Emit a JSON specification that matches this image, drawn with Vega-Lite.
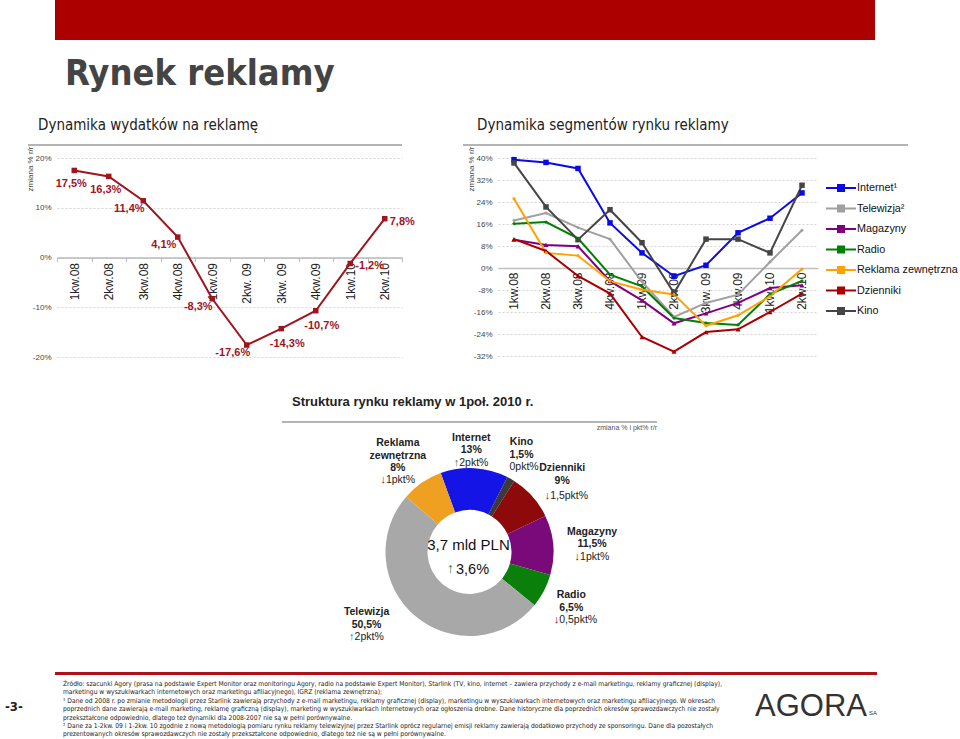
{
  "$schema": "https://vega.github.io/schema/vega-lite/v6.json",
  "padding": 0,
  "background": "white",
  "config": {
    "view": {"stroke": null},
    "font": "Liberation Sans",
    "locale": {"number": {"decimal": ",", "thousands": " ", "grouping": [3], "currency": ["", " zł"], "minus": "-"}},
    "title": {"font": "Liberation Sans", "color": "#222222", "fontWeight": "normal"},
    "axis": {"labelFont": "Liberation Sans", "titleFont": "Liberation Sans"}
  },
  "datasets": {
    "wydatki": [
      {"kwartal": "1kw.08", "zmiana": 0.175},
      {"kwartal": "2kw.08", "zmiana": 0.163},
      {"kwartal": "3kw.08", "zmiana": 0.114},
      {"kwartal": "4kw.08", "zmiana": 0.041},
      {"kwartal": "1kw.09", "zmiana": -0.083},
      {"kwartal": "2kw. 09", "zmiana": -0.176},
      {"kwartal": "3kw. 09", "zmiana": -0.143},
      {"kwartal": "4kw.09", "zmiana": -0.107},
      {"kwartal": "1kw.10", "zmiana": -0.012},
      {"kwartal": "2kw.10", "zmiana": 0.078}
    ],
    "segmenty": [
      {"seria": "Internet¹", "kwartal": "1kw.08", "zmiana": 0.394},
      {"seria": "Internet¹", "kwartal": "2kw.08", "zmiana": 0.384},
      {"seria": "Internet¹", "kwartal": "3kw.08", "zmiana": 0.362},
      {"seria": "Internet¹", "kwartal": "4kw.08", "zmiana": 0.164},
      {"seria": "Internet¹", "kwartal": "1kw.09", "zmiana": 0.055},
      {"seria": "Internet¹", "kwartal": "2kw.09", "zmiana": -0.030},
      {"seria": "Internet¹", "kwartal": "3kw. 09", "zmiana": 0.010},
      {"seria": "Internet¹", "kwartal": "4kw.09", "zmiana": 0.128},
      {"seria": "Internet¹", "kwartal": "1kw. 10", "zmiana": 0.181},
      {"seria": "Internet¹", "kwartal": "2kw.10", "zmiana": 0.273},
      {"seria": "Telewizja²", "kwartal": "1kw.08", "zmiana": 0.173},
      {"seria": "Telewizja²", "kwartal": "2kw.08", "zmiana": 0.200},
      {"seria": "Telewizja²", "kwartal": "3kw.08", "zmiana": 0.147},
      {"seria": "Telewizja²", "kwartal": "4kw.08", "zmiana": 0.105},
      {"seria": "Telewizja²", "kwartal": "1kw.09", "zmiana": -0.050},
      {"seria": "Telewizja²", "kwartal": "2kw.09", "zmiana": -0.178},
      {"seria": "Telewizja²", "kwartal": "3kw. 09", "zmiana": -0.127},
      {"seria": "Telewizja²", "kwartal": "4kw.09", "zmiana": -0.097},
      {"seria": "Telewizja²", "kwartal": "1kw. 10", "zmiana": 0.022},
      {"seria": "Telewizja²", "kwartal": "2kw.10", "zmiana": 0.137},
      {"seria": "Magazyny", "kwartal": "1kw.08", "zmiana": 0.103},
      {"seria": "Magazyny", "kwartal": "2kw.08", "zmiana": 0.084},
      {"seria": "Magazyny", "kwartal": "3kw.08", "zmiana": 0.079},
      {"seria": "Magazyny", "kwartal": "4kw.08", "zmiana": -0.048},
      {"seria": "Magazyny", "kwartal": "1kw.09", "zmiana": -0.118},
      {"seria": "Magazyny", "kwartal": "2kw.09", "zmiana": -0.201},
      {"seria": "Magazyny", "kwartal": "3kw. 09", "zmiana": -0.165},
      {"seria": "Magazyny", "kwartal": "4kw.09", "zmiana": -0.127},
      {"seria": "Magazyny", "kwartal": "1kw. 10", "zmiana": -0.073},
      {"seria": "Magazyny", "kwartal": "2kw.10", "zmiana": -0.063},
      {"seria": "Radio", "kwartal": "1kw.08", "zmiana": 0.161},
      {"seria": "Radio", "kwartal": "2kw.08", "zmiana": 0.167},
      {"seria": "Radio", "kwartal": "3kw.08", "zmiana": 0.108},
      {"seria": "Radio", "kwartal": "4kw.08", "zmiana": -0.024},
      {"seria": "Radio", "kwartal": "1kw.09", "zmiana": -0.067},
      {"seria": "Radio", "kwartal": "2kw.09", "zmiana": -0.182},
      {"seria": "Radio", "kwartal": "3kw. 09", "zmiana": -0.200},
      {"seria": "Radio", "kwartal": "4kw.09", "zmiana": -0.207},
      {"seria": "Radio", "kwartal": "1kw. 10", "zmiana": -0.095},
      {"seria": "Radio", "kwartal": "2kw.10", "zmiana": -0.047},
      {"seria": "Reklama zewnętrzna", "kwartal": "1kw.08", "zmiana": 0.252},
      {"seria": "Reklama zewnętrzna", "kwartal": "2kw.08", "zmiana": 0.055},
      {"seria": "Reklama zewnętrzna", "kwartal": "3kw.08", "zmiana": 0.045},
      {"seria": "Reklama zewnętrzna", "kwartal": "4kw.08", "zmiana": -0.048},
      {"seria": "Reklama zewnętrzna", "kwartal": "1kw.09", "zmiana": -0.079},
      {"seria": "Reklama zewnętrzna", "kwartal": "2kw.09", "zmiana": -0.096},
      {"seria": "Reklama zewnętrzna", "kwartal": "3kw. 09", "zmiana": -0.210},
      {"seria": "Reklama zewnętrzna", "kwartal": "4kw.09", "zmiana": -0.172},
      {"seria": "Reklama zewnętrzna", "kwartal": "1kw. 10", "zmiana": -0.103},
      {"seria": "Reklama zewnętrzna", "kwartal": "2kw.10", "zmiana": -0.004},
      {"seria": "Dzienniki", "kwartal": "1kw.08", "zmiana": 0.105},
      {"seria": "Dzienniki", "kwartal": "2kw.08", "zmiana": 0.062},
      {"seria": "Dzienniki", "kwartal": "3kw.08", "zmiana": -0.029},
      {"seria": "Dzienniki", "kwartal": "4kw.08", "zmiana": -0.093},
      {"seria": "Dzienniki", "kwartal": "1kw.09", "zmiana": -0.251},
      {"seria": "Dzienniki", "kwartal": "2kw.09", "zmiana": -0.304},
      {"seria": "Dzienniki", "kwartal": "3kw. 09", "zmiana": -0.233},
      {"seria": "Dzienniki", "kwartal": "4kw.09", "zmiana": -0.223},
      {"seria": "Dzienniki", "kwartal": "1kw. 10", "zmiana": -0.160},
      {"seria": "Dzienniki", "kwartal": "2kw.10", "zmiana": -0.093},
      {"seria": "Kino", "kwartal": "1kw.08", "zmiana": 0.382},
      {"seria": "Kino", "kwartal": "2kw.08", "zmiana": 0.222},
      {"seria": "Kino", "kwartal": "3kw.08", "zmiana": 0.103},
      {"seria": "Kino", "kwartal": "4kw.08", "zmiana": 0.212},
      {"seria": "Kino", "kwartal": "1kw.09", "zmiana": 0.092},
      {"seria": "Kino", "kwartal": "2kw.09", "zmiana": -0.091},
      {"seria": "Kino", "kwartal": "3kw. 09", "zmiana": 0.105},
      {"seria": "Kino", "kwartal": "4kw.09", "zmiana": 0.105},
      {"seria": "Kino", "kwartal": "1kw. 10", "zmiana": 0.055},
      {"seria": "Kino", "kwartal": "2kw.10", "zmiana": 0.301}
    ],
    "struktura": [
      {"nr": 1, "segment": "Internet", "udzial": 0.13, "opis": "Internet\n13%", "zmiana": "2pkt%", "strzalka": "↑"},
      {"nr": 2, "segment": "Kino", "udzial": 0.015, "opis": "Kino\n1,5%", "zmiana": "0pkt%", "strzalka": ""},
      {"nr": 3, "segment": "Dzienniki", "udzial": 0.09, "opis": "Dzienniki\n9%", "zmiana": "1,5pkt%", "strzalka": "↓"},
      {"nr": 4, "segment": "Magazyny", "udzial": 0.115, "opis": "Magazyny\n11,5%", "zmiana": "1pkt%", "strzalka": "↓"},
      {"nr": 5, "segment": "Radio", "udzial": 0.065, "opis": "Radio\n6,5%", "zmiana": "0,5pkt%", "strzalka": "↓"},
      {"nr": 6, "segment": "Telewizja", "udzial": 0.505, "opis": "Telewizja\n50,5%", "zmiana": "2pkt%", "strzalka": "↑"},
      {"nr": 7, "segment": "Reklama zewnętrzna", "udzial": 0.08, "opis": "Reklama\nzewnętrzna\n8%", "zmiana": "1pkt%", "strzalka": "↓"}
    ]
  },
  "resolve": {"scale": {"color": "independent", "theta": "independent"}, "legend": {"color": "independent"}},
  "spacing": 0,
  "vconcat": [
    {
      "spacing": 0, "bounds": "flush",
      "hconcat": [
        {"width": 28, "height": 144, "data": {"values": []}, "mark": "text"},
        {"width": 27, "height": 1, "data": {"values": []}, "mark": "text",
         "title": {"text": "Dynamika wydatków na reklamę", "orient": "bottom", "anchor": "start", "dx": 10, "offset": 117, "baseline": "top", "font": "DejaVu Sans Condensed", "fontSize": 15, "color": "#222222"}},
        {"width": 422, "height": 40, "view": {"fill": "#ac0000", "stroke": null}, "data": {"values": []}, "mark": "text",
         "title": {"text": "Rynek reklamy", "orient": "bottom", "anchor": "start", "dx": 10, "offset": 16.6, "baseline": "top", "font": "DejaVu Sans Condensed", "fontSize": 36, "fontWeight": "bold", "color": "#444444"}},
        {"width": 398, "height": 40, "view": {"fill": "#ac0000", "stroke": null}, "data": {"values": []}, "mark": "text",
         "title": {"text": "Dynamika segmentów rynku reklamy", "orient": "bottom", "anchor": "start", "dx": 0, "offset": 78, "baseline": "top", "font": "DejaVu Sans Condensed", "fontSize": 15, "color": "#222222"}}
      ]
    },
    {
      "spacing": 0, "bounds": "flush",
      "hconcat": [
        {"width": 28, "height": 2, "data": {"values": []}, "mark": "text"},
        {"width": 374, "height": 2, "view": {"fill": "#b4b4b4", "stroke": null}, "data": {"values": []}, "mark": "text"},
        {"width": 61, "height": 2, "data": {"values": []}, "mark": "text"},
        {"width": 445, "height": 2, "view": {"fill": "#b4b4b4", "stroke": null}, "data": {"values": []}, "mark": "text"}
      ]
    },
    {
      "spacing": 0, "bounds": "flush",
      "resolve": {"scale": {"color": "independent"}, "legend": {"color": "independent"}},
      "hconcat": [
        {"width": 57, "height": 263, "data": {"values": []}, "mark": "text",
         "title": {"text": "Struktura rynku reklamy w 1poł. 2010 r.", "orient": "bottom", "anchor": "start", "dx": 292, "offset": -25, "baseline": "top", "fontSize": 13, "fontWeight": "bold", "color": "#222222"}},
        {
          "width": 345,
          "height": 199,
          "data": {"name": "wydatki"},
          "encoding": {
            "x": {"field": "kwartal", "type": "ordinal",
                  "scale": {"type": "band", "paddingInner": 0, "paddingOuter": 0, "domain": ["1kw.08", "2kw.08", "3kw.08", "4kw.08", "1kw.09", "2kw. 09", "3kw. 09", "4kw.09", "1kw.10", "2kw.10"]},
                  "axis": {"title": null, "offset": -99.5, "labelAngle": 270, "labelFontSize": 12, "labelColor": "#222222", "labelPadding": 1, "domainColor": "#b8b8b8", "domainWidth": 1.5, "ticks": true, "tickBand": "extent", "tickSize": 4, "tickColor": "#b8b8b8", "grid": false}},
            "y": {"field": "zmiana", "type": "quantitative", "scale": {"domain": [-0.2, 0.2]},
                  "axis": {"title": "zmiana % r/r", "values": [-0.2, -0.1, 0, 0.1, 0.2], "format": ".0%", "labelFontSize": 8, "labelColor": "#444444", "labelPadding": 6, "ticks": false, "domain": false, "grid": true, "gridDash": [2, 2], "gridColor": "#d4d4d4", "titleFontSize": 8, "titleFontWeight": "normal", "titleColor": "#444444", "titleAngle": 270, "titleAlign": "right", "titleBaseline": "middle", "titleX": -27, "titleY": -12}}
          },
          "layer": [
            {"mark": {"type": "line", "color": "#a0141e", "strokeWidth": 2}},
            {"mark": {"type": "point", "shape": "square", "filled": true, "size": 30, "color": "#a0141e", "opacity": 1}},
            {"transform": [{"filter": {"field": "kwartal", "oneOf": ["1kw.08", "2kw.08"]}}],
             "mark": {"type": "text", "fontSize": 11, "fontWeight": "bold", "color": "#a0141e", "align": "center", "baseline": "middle", "dx": -3, "dy": 14},
             "encoding": {"text": {"field": "zmiana", "format": ".1%"}}},
            {"transform": [{"filter": {"field": "kwartal", "oneOf": ["3kw.08", "4kw.08", "1kw.09", "2kw. 09"]}}],
             "mark": {"type": "text", "fontSize": 11, "fontWeight": "bold", "color": "#a0141e", "align": "center", "baseline": "middle", "dx": -14, "dy": 8},
             "encoding": {"text": {"field": "zmiana", "format": ".1%"}}},
            {"transform": [{"filter": {"field": "kwartal", "oneOf": ["3kw. 09", "4kw.09"]}}],
             "mark": {"type": "text", "fontSize": 11, "fontWeight": "bold", "color": "#a0141e", "align": "center", "baseline": "middle", "dx": 6, "dy": 15},
             "encoding": {"text": {"field": "zmiana", "format": ".1%"}}},
            {"transform": [{"filter": {"field": "kwartal", "oneOf": ["1kw.10", "2kw.10"]}}],
             "mark": {"type": "text", "fontSize": 11, "fontWeight": "bold", "color": "#a0141e", "align": "left", "baseline": "middle", "dx": 5, "dy": 3},
             "encoding": {"text": {"field": "zmiana", "format": ".1%"}}}
          ]
        },
        {"width": 96, "height": 1, "data": {"values": []}, "mark": "text"},
        {
          "width": 320,
          "height": 198,
          "data": {"name": "segmenty"},
          "encoding": {
            "x": {"field": "kwartal", "type": "ordinal",
                  "scale": {"type": "band", "paddingInner": 0, "paddingOuter": 0, "domain": ["1kw.08", "2kw.08", "3kw.08", "4kw.08", "1kw.09", "2kw.09", "3kw. 09", "4kw.09", "1kw. 10", "2kw.10"]},
                  "axis": {"title": null, "offset": -88, "labelAngle": 270, "labelFontSize": 12, "labelColor": "#222222", "labelPadding": 4, "domainColor": "#c0c0c0", "domainWidth": 1.5, "ticks": false, "grid": false}},
            "y": {"field": "zmiana", "type": "quantitative", "scale": {"domain": [-0.32, 0.4]},
                  "axis": {"title": "zmiana % r/r", "values": [-0.32, -0.24, -0.16, -0.08, 0, 0.08, 0.16, 0.24, 0.32, 0.4], "format": ".0%", "labelFontSize": 8, "labelColor": "#444444", "labelPadding": 6, "ticks": false, "domain": false, "grid": true, "gridDash": [2, 2], "gridColor": "#d4d4d4", "titleFontSize": 8, "titleFontWeight": "normal", "titleColor": "#444444", "titleAngle": 270, "titleAlign": "right", "titleBaseline": "middle", "titleX": -27, "titleY": -12}},
            "color": {"field": "seria", "type": "nominal",
                      "scale": {"domain": ["Internet¹", "Telewizja²", "Magazyny", "Radio", "Reklama zewnętrzna", "Dzienniki", "Kino"],
                                "range": ["#0a0ae6", "#a0a0a0", "#800080", "#008000", "#ffa200", "#a80000", "#454545"]},
                      "legend": {"title": null, "orient": "none", "legendX": 337, "legendY": 24, "padding": 0,
                                 "symbolType": "M-3,0H3M-0.6,-0.6H0.6V0.6H-0.6Z", "symbolSize": 100, "symbolStrokeWidth": 2,
                                 "labelFontSize": 10.8, "labelColor": "#111111", "labelOffset": 10, "rowPadding": 6.5, "labelLimit": 200,
                                 "encode": {"symbols": {"update": {"fill": {"scale": "color", "field": "value"}, "stroke": {"scale": "color", "field": "value"}, "opacity": {"value": 1}, "shape": {"value": "M-3,0H3M-0.6,-0.6H0.6V0.6H-0.6Z"}}}}}}
          },
          "layer": [
            {"mark": {"type": "line", "strokeWidth": 2}},
            {"transform": [{"filter": {"field": "seria", "oneOf": ["Internet¹", "Kino"]}}],
             "mark": {"type": "point", "shape": "square", "filled": true, "size": 30, "opacity": 1}},
            {"transform": [{"filter": {"field": "seria", "oneOf": ["Magazyny", "Dzienniki"]}}],
             "mark": {"type": "point", "shape": "triangle-up", "filled": true, "size": 25, "opacity": 1}},
            {"transform": [{"filter": {"field": "seria", "oneOf": ["Telewizja²", "Radio", "Reklama zewnętrzna"]}}],
             "mark": {"type": "point", "shape": "diamond", "filled": true, "size": 14, "opacity": 1}}
          ]
        }
      ]
    },
    {
      "spacing": 0, "bounds": "flush",
      "hconcat": [
        {"width": 282, "height": 11, "data": {"values": []}, "mark": "text"},
        {"width": 375, "height": 2, "view": {"fill": "#b4b4b4", "stroke": null}, "data": {"values": []}, "mark": "text",
         "title": {"text": "zmiana % i pkt% r/r", "orient": "bottom", "anchor": "end", "offset": 1, "baseline": "top", "fontSize": 7, "color": "#555555"}}
      ]
    },
    {
      "spacing": 0, "bounds": "flush",
      "hconcat": [
        {"width": 282, "height": 240, "data": {"values": []}, "mark": "text"},
        {
          "width": 375,
          "height": 240,
          "data": {"name": "struktura"},
          "layer": [
            {"mark": {"type": "arc", "outerRadius": 84, "innerRadius": 42},
             "encoding": {
               "theta": {"field": "udzial", "type": "quantitative", "stack": true, "scale": {"range": [-0.35, 5.9332]}},
               "order": {"field": "nr", "type": "quantitative"},
               "color": {"field": "segment", "type": "nominal",
                         "scale": {"domain": ["Internet", "Kino", "Dzienniki", "Magazyny", "Radio", "Telewizja", "Reklama zewnętrzna"],
                                   "range": ["#1414e6", "#3a3a3a", "#8e0a0a", "#7a0a7a", "#0a800a", "#a8a8a8", "#f0a020"]},
                         "legend": null}}},
            {"mark": {"type": "text", "radius": 116, "align": "center", "baseline": "middle", "fontSize": 10.5, "fontWeight": "bold", "lineBreak": "\n", "lineHeight": 12.5, "color": "#222222",
                      "dx": {"expr": "({'Internet': -5, 'Kino': -5, 'Dzienniki': 6, 'Magazyny': 7, 'Radio': -1, 'Telewizja': -28, 'Reklama zewnętrzna': -6})[datum.segment]"},
                      "dy": {"expr": "({'Internet': 1.5, 'Kino': -8.5, 'Dzienniki': -6.5, 'Magazyny': -10.5, 'Radio': -10.5, 'Telewizja': -28.5, 'Reklama zewnętrzna': -13})[datum.segment]"}},
             "encoding": {"theta": {"field": "udzial", "type": "quantitative", "stack": true}, "order": {"field": "nr", "type": "quantitative"}, "detail": {"field": "segment", "type": "nominal"},
               "text": {"field": "opis", "type": "nominal"}}},
            {"mark": {"type": "text", "radius": 116, "align": "left", "baseline": "middle", "fontSize": 10.5, "color": "#222222",
                      "dx": {"expr": "({'Internet': -17, 'Kino': -17, 'Dzienniki': -6, 'Magazyny': -5, 'Radio': -13, 'Telewizja': -40, 'Reklama zewnętrzna': -18})[datum.segment]"},
                      "dy": {"expr": "({'Internet': 26.5, 'Kino': 16.5, 'Dzienniki': 21, 'Magazyny': 14.5, 'Radio': 14.5, 'Telewizja': -3.5, 'Reklama zewnętrzna': 23.5})[datum.segment]"}},
             "encoding": {"theta": {"field": "udzial", "type": "quantitative", "stack": true}, "order": {"field": "nr", "type": "quantitative"}, "detail": {"field": "segment", "type": "nominal"},
               "text": {"field": "zmiana", "type": "nominal"}}},
            {"mark": {"type": "text", "radius": 116, "align": "right", "baseline": "middle", "fontSize": 11, "fontWeight": "bold",
                      "dx": {"expr": "({'Internet': -17, 'Kino': -17, 'Dzienniki': -6, 'Magazyny': -5, 'Radio': -13, 'Telewizja': -40, 'Reklama zewnętrzna': -18})[datum.segment]"},
                      "dy": {"expr": "({'Internet': 26.5, 'Kino': 16.5, 'Dzienniki': 21, 'Magazyny': 14.5, 'Radio': 14.5, 'Telewizja': -3.5, 'Reklama zewnętrzna': 23.5})[datum.segment]"}},
             "encoding": {"theta": {"field": "udzial", "type": "quantitative", "stack": true}, "order": {"field": "nr", "type": "quantitative"}, "detail": {"field": "segment", "type": "nominal"},
               "text": {"field": "strzalka", "type": "nominal"},
               "color": {"condition": {"test": "datum.strzalka === '↑'", "value": "#1f7a1f"}, "value": "#c00000"}}},
            {"data": {"values": [{"rynek": "3,7 mld PLN", "wzrost": "3,6%", "strzalka": "↑"}]},
             "mark": {"type": "text", "fontSize": 15, "color": "#111111", "align": "center", "baseline": "middle", "dx": -1, "dy": -7},
             "encoding": {"text": {"field": "rynek", "type": "nominal"}}},
            {"data": {"values": [{"rynek": "3,7 mld PLN", "wzrost": "3,6%", "strzalka": "↑"}]},
             "mark": {"type": "text", "fontSize": 14.5, "color": "#111111", "align": "center", "baseline": "middle", "dx": 3, "dy": 18},
             "encoding": {"text": {"field": "wzrost", "type": "nominal"}}},
            {"data": {"values": [{"rynek": "3,7 mld PLN", "wzrost": "3,6%", "strzalka": "↑"}]},
             "mark": {"type": "text", "fontSize": 14, "fontWeight": "bold", "color": "#1f7a1f", "align": "center", "baseline": "middle", "dx": -19, "dy": 17},
             "encoding": {"text": {"field": "strzalka", "type": "nominal"}}}
          ]
        }
      ]
    },
    {
      "spacing": 0, "bounds": "flush",
      "hconcat": [
        {"width": 55, "height": 3, "data": {"values": []}, "mark": "text",
         "title": {"text": "-3-", "orient": "bottom", "anchor": "start", "dx": 5, "offset": 26, "baseline": "top", "fontSize": 13, "fontWeight": "bold", "color": "#222222", "font": "DejaVu Sans Condensed"}},
        {"width": 700, "height": 3, "view": {"fill": "#b01018", "stroke": null}, "data": {"values": []}, "mark": "text",
         "title": {"text": [
            "Źródło: szacunki Agory (prasa na podstawie Expert Monitor oraz monitoringu Agory, radio na podstawie Expert Monitor), Starlink (TV, kino, internet – zawiera przychody z e-mail marketingu, reklamy graficznej (display),",
            "marketingu w wyszukiwarkach internetowych oraz marketingu afiliacyjnego), IGRZ (reklama zewnętrzna);",
            "¹  Dane od 2008 r. po zmianie metodologii przez Starlink zawierają przychody z e-mail marketingu, reklamy graficznej (display), marketingu w wyszukiwarkach internetowych oraz marketingu afiliacyjnego. W okresach",
            "poprzednich dane zawierają e-mail marketing, reklamę graficzną (display), marketing w wyszukiwarkach internetowych oraz ogłoszenia drobne. Dane historyczne dla poprzednich okresów sprawozdawczych nie zostały",
            "przekształcone odpowiednio, dlatego też dynamiki dla 2008-2007 nie są w pełni porównywalne.",
            "² Dane za 1-2kw. 09 i 1-2kw. 10 zgodnie z nową metodologią pomiaru rynku reklamy telewizyjnej przez Starlink oprócz regularnej emisji reklamy zawierają dodatkowo przychody ze sponsoringu. Dane dla pozostałych",
            "prezentowanych okresów sprawozdawczych nie zostały przekształcone odpowiednio, dlatego też nie są w pełni porównywalne."
          ], "orient": "bottom", "anchor": "start", "dx": 8, "offset": 6, "baseline": "top", "fontSize": 6.7, "lineHeight": 8.4, "color": "#222222", "font": "DejaVu Sans Condensed"}},
        {"width": 113, "height": 3, "view": {"fill": "#b01018", "stroke": null}, "data": {"values": []}, "mark": "text",
         "title": {"text": "AGORA", "orient": "bottom", "anchor": "start", "dx": 0, "offset": 16.5, "baseline": "top", "fontSize": 31, "color": "#333333"}},
        {"width": 9, "height": 3, "view": {"fill": "#b01018", "stroke": null}, "data": {"values": []}, "mark": "text",
         "title": {"text": "SA", "orient": "bottom", "anchor": "start", "dx": 1, "offset": 34.5, "baseline": "top", "fontSize": 6, "color": "#333333"}}
      ]
    }
  ]
}
